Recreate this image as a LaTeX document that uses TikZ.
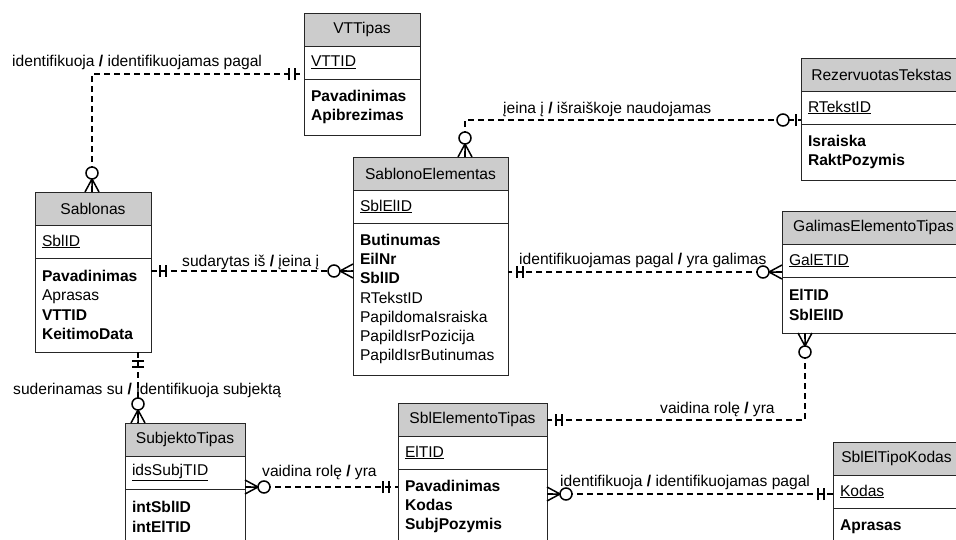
\documentclass[tikz,border=0pt]{standalone}
\usepackage{fontspec}
\setmainfont{Liberation Sans}
\usepackage{tikz}
\usetikzlibrary{calc, positioning}

\newcommand{\erfont}{\fontsize{15.6pt}{19.3pt}\selectfont}

\begin{document}
\begin{tikzpicture}[x=1pt, y=-1pt, node distance=0pt]

\tikzset{
  ent head/.style={draw=black!85, line width=1pt, fill=gray!40, outer sep=0pt,
    inner sep=0pt, minimum height=33pt, font=\erfont},
  ent key/.style={draw=black!85, line width=1pt, outer sep=0pt, inner xsep=7pt,
    inner ysep=0pt, minimum height=33pt, align=left, font=\erfont},
  ent attr/.style={draw=black!85, line width=1pt, outer sep=0pt, inner xsep=7pt,
    inner ysep=0pt, align=left, font=\erfont},
  rel/.style={line width=1.5pt, dash pattern=on 6pt off 4pt},
  sym/.style={line width=1.5pt, solid},
  rel label/.style={anchor=base west, inner sep=0pt, font=\erfont},
  one one/.pic={
    \draw[sym] (9,-6) -- (9,6) (15,-6) -- (15,6);
  },
  zero many/.pic={
    \draw[sym] (0,-7) -- (13,0) -- (0,7) (0,0) -- (13,0);
    \draw[sym, fill=white] (19,0) circle (6);
  },
  zero one/.pic={
    \draw[sym] (5,-6) -- (5,6);
    \draw[sym, fill=white] (18,0) circle (6);
  }
}

\useasboundingbox (0,0) rectangle (956,539);
\clip (0,0) rectangle (956,539);

% entities
\node[ent head, minimum width=116pt, anchor=north west] (vtt-h) at (304,13) {VTTipas};
\node[ent key, text width=102pt, below=of vtt-h] (vtt-k) {\underline{VTTID}};
\node[ent attr, text width=102pt, minimum height=56pt, below=of vtt-k] (vtt-a)
  {\textbf{Pavadinimas}\\\textbf{Apibrezimas}};

\node[ent head, minimum width=161pt, anchor=north west] (rez-h) at (801,58) {RezervuotasTekstas};
\node[ent key, text width=147pt, below=of rez-h] (rez-k) {\underline{RTekstID}};
\node[ent attr, text width=147pt, minimum height=56pt, below=of rez-k] (rez-a)
  {\textbf{Israiska}\\\textbf{RaktPozymis}};

\node[ent head, minimum width=116pt, anchor=north west] (sabl-h) at (35,192) {Sablonas};
\node[ent key, text width=102pt, below=of sabl-h] (sabl-k) {\underline{SblID}};
\node[ent attr, text width=102pt, minimum height=94pt, below=of sabl-k] (sabl-a)
  {\textbf{Pavadinimas}\\Aprasas\\\textbf{VTTID}\\\textbf{KeitimoData}};

\node[ent head, minimum width=155pt, anchor=north west] (sblel-h) at (353,157) {SablonoElementas};
\node[ent key, text width=141pt, below=of sblel-h] (sblel-k) {\underline{SblElID}};
\node[ent attr, text width=141pt, minimum height=152pt, below=of sblel-k] (sblel-a)
  {\textbf{Butinumas}\\\textbf{EilNr}\\\textbf{SblID}\\RTekstID\\PapildomaIsraiska\\PapildIsrPozicija\\PapildIsrButinumas};

\node[ent head, minimum width=183pt, anchor=north west] (gal-h) at (782,211) {GalimasElementoTipas};
\node[ent key, text width=169pt, below=of gal-h] (gal-k) {\underline{GalETID}};
\node[ent attr, text width=169pt, minimum height=56pt, below=of gal-k] (gal-a)
  {\textbf{ElTID}\\\textbf{SblElID}};

\node[ent head, minimum width=149pt, anchor=north west] (setip-h) at (398,403) {SblElementoTipas};
\node[ent key, text width=135pt, below=of setip-h] (setip-k) {\underline{ElTID}};
\node[ent attr, text width=135pt, minimum height=75pt, below=of setip-k] (setip-a)
  {\textbf{Pavadinimas}\\\textbf{Kodas}\\\textbf{SubjPozymis}};

\node[ent head, minimum width=120pt, anchor=north west] (subj-h) at (125,423) {SubjektoTipas};
\node[ent key, text width=106pt, below=of subj-h] (subj-k) {\underline{idsSubjTID}};
\node[ent attr, text width=106pt, minimum height=56pt, below=of subj-k] (subj-a)
  {\textbf{intSblID}\\\textbf{intElTID}};

\node[ent head, minimum width=127pt, anchor=north west] (kod-h) at (833,442) {SblElTipoKodas};
\node[ent key, text width=113pt, below=of kod-h] (kod-k) {\underline{Kodas}};
\node[ent attr, text width=113pt, minimum height=38pt, below=of kod-k] (kod-a)
  {\textbf{Aprasas}};

% attachment points
\coordinate (sabl-top) at ($(sabl-h.north west)+(57,0)$);
\coordinate (vtt-in) at ($(vtt-k.south west)+(0,-5)$);
\coordinate (sabl-r) at ($(sabl-a.north east)+(0,13)$);
\coordinate (sblel-top) at ($(sblel-h.north west)+(112,0)$);
\coordinate (rez-in) at ($(rez-k.south west)+(0,-4)$);
\coordinate (gal-in) at ($(gal-k.south west)+(0,-5)$);
\coordinate (gal-bot) at ($(gal-a.south west)+(23,0)$);
\coordinate (setip-r) at ($(setip-h.south east)+(0,-16)$);
\coordinate (sabl-bot) at ($(sabl-a.south west)+(103,0)$);
\coordinate (subj-r) at ($(subj-k.south east)+(0,-2)$);
\coordinate (setip-r2) at ($(setip-a.north east)+(0,25)$);

% relationships
\draw[rel] (sabl-top) |- (vtt-in);
\draw[rel] (sabl-r) -- (sabl-r -| sblel-a.west);
\draw[rel] (sblel-top) |- (rez-in);
\draw[rel] (gal-in) -- (gal-in -| sblel-a.east);
\draw[rel] (gal-bot) |- (setip-r);
\draw[rel] (sabl-bot) -- (sabl-bot |- subj-h.north);
\draw[rel] (subj-r) -- (subj-r -| setip-a.west);
\draw[rel] (setip-r2) -- (setip-r2 -| kod-k.west);

\pic[rotate=90] at (sabl-top) {zero many};
\pic[rotate=180] at (vtt-in) {one one};
\pic at (sabl-r) {one one};
\pic[rotate=180] at (sabl-r -| sblel-a.west) {zero many};
\pic[rotate=90] at (sblel-top) {zero many};
\pic[rotate=180] at (rez-in) {zero one};
\pic[rotate=180] at (gal-in) {zero many};
\pic at (gal-in -| sblel-a.east) {one one};
\pic[rotate=-90] at (gal-bot) {zero many};
\pic at (setip-r) {one one};
\pic[rotate=-90] at (sabl-bot) {one one};
\pic[rotate=90] at (sabl-bot |- subj-h.north) {zero many};
\pic at (subj-r) {zero many};
\pic[rotate=180] at (subj-r -| setip-a.west) {one one};
\pic at (setip-r2) {zero many};
\pic[rotate=180] at (setip-r2 -| kod-k.west) {one one};

% labels
\node[rel label] (l-vtt) at (12,66) {identifikuoja \textbf{/} identifikuojamas pagal};
\node[rel label] (l-sabl) at (182,266) {sudarytas iš \textbf{/} įeina į};
\node[rel label] (l-rez) at (503,113) {įeina į \textbf{/} išraiškoje naudojamas};
\node[rel label] (l-gal) at (519,264) {identifikuojamas pagal \textbf{/} yra galimas};
\node[rel label] (l-role) at (660,413) {vaidina rolę \textbf{/} yra};
\node[rel label] (l-subj) at (13,394) {suderinamas su \textbf{/} identifikuoja subjektą};
\node[rel label] (l-role2) at (262,476) {vaidina rolę \textbf{/} yra};
\node[rel label] (l-kod) at (560,486) {identifikuoja \textbf{/} identifikuojamas pagal};

\end{tikzpicture}
\end{document}
